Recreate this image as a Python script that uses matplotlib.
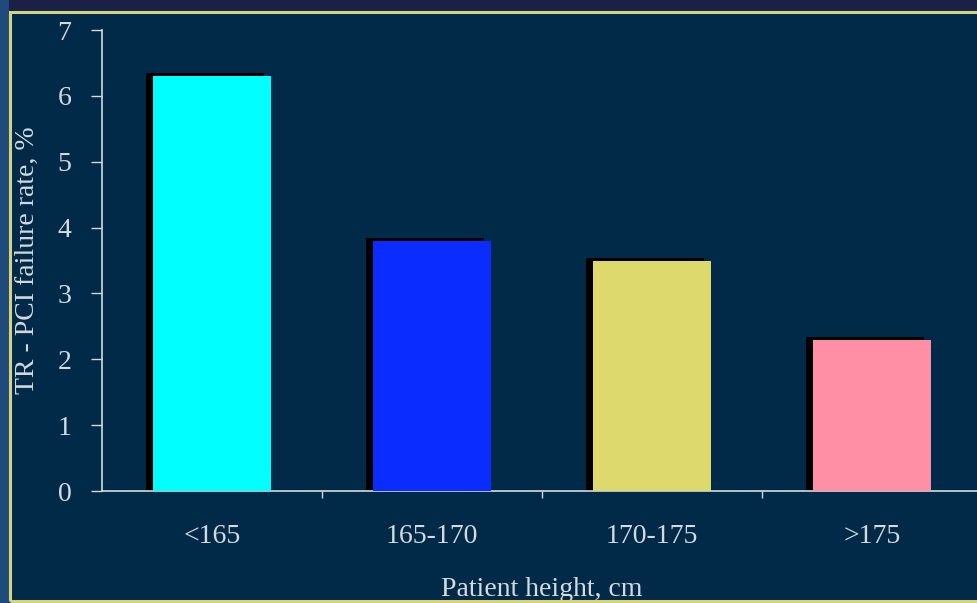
import matplotlib.pyplot as plt
from matplotlib.patches import Rectangle

# failure rate by patient height group
groups = ["<165", "165-170", "170-175", ">175"]
failure_rate = [6.3, 3.8, 3.5, 2.3]
bar_colors = ["#00ffff", "#0a2cff", "#ddd96c", "#ff8fa4"]
y_ticks = [0, 1, 2, 3, 4, 5, 6, 7]

bg = "#002a48"
fg = "#d6dade"
plt.rcParams["font.family"] = ["Liberation Serif", "DejaVu Serif"]

fig = plt.figure(figsize=(9.77, 6.03), dpi=100, facecolor=bg)

# strips around the slide frame
fig.patches.append(Rectangle((0, 0.983), 1, 0.017, transform=fig.transFigure,
                             facecolor="#1b2146", edgecolor="none", zorder=0))
fig.patches.append(Rectangle((0, 0), 0.009, 1, transform=fig.transFigure,
                             facecolor="#1f4a7c", edgecolor="none", zorder=0))
fig.patches.append(Rectangle((0.010, 0.003), 1.0, 0.977, transform=fig.transFigure,
                             facecolor="none", edgecolor="#d8d27e", linewidth=2.2, zorder=1))

ax = fig.add_axes([0.1044, 0.1857, 0.9007, 0.7645])
ax.set_facecolor(bg)

x = range(len(groups))
# dark drop shadow behind each bar
ax.bar([i - 0.032 for i in x], [v + 0.04 for v in failure_rate], width=0.54,
       color="#000000", zorder=2)
ax.bar(x, failure_rate, width=0.54, color=bar_colors, zorder=3)

ax.set_xlim(-0.5, 3.5)
ax.set_ylim(0, 7)
ax.set_yticks(y_ticks)
ax.set_xticks([0.5, 1.5, 2.5])
ax.set_xticklabels([])
ax.set_xticks(list(x), minor=True)
ax.set_xticklabels(groups, minor=True)

for side in ["top", "right"]:
    ax.spines[side].set_visible(False)
for side in ["left", "bottom"]:
    ax.spines[side].set_color(fg)
    ax.spines[side].set_linewidth(1.2)

ax.tick_params(axis="y", colors=fg, labelsize=20, length=8, width=1, pad=14)
ax.tick_params(axis="x", which="major", colors=fg, length=5, width=1)
ax.tick_params(axis="x", which="minor", colors=fg, labelsize=20, length=0, pad=24)

ax.set_ylabel("TR - PCI failure rate, %", color=fg, fontsize=20)
ax.yaxis.set_label_coords(-0.070, 0.5)
ax.set_xlabel("Patient height, cm", color=fg, fontsize=20)
ax.xaxis.set_label_coords(0.5, -0.187)

fig.savefig("out.png", dpi=100, facecolor=bg)
